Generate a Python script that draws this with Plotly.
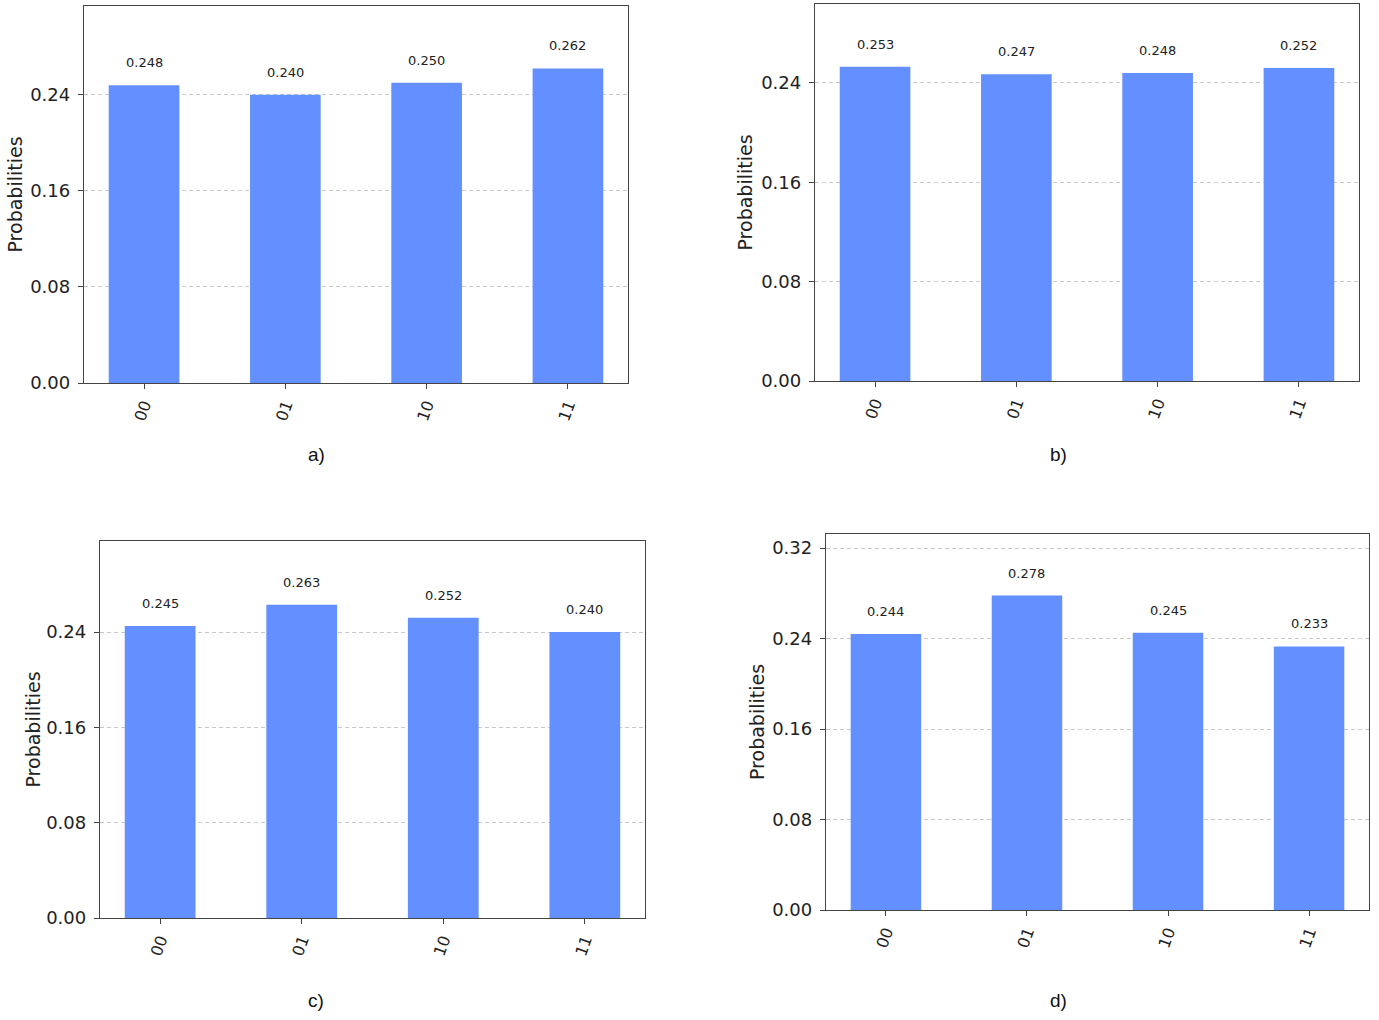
import plotly.graph_objects as go

W, H = 1379, 1020
HR = 1010  # rendered height observed in the capture

categories = ["00", "01", "10", "11"]
values_a = [0.248, 0.240, 0.250, 0.262]
values_b = [0.253, 0.247, 0.248, 0.252]
values_c = [0.245, 0.263, 0.252, 0.240]
values_d = [0.244, 0.278, 0.245, 0.233]
panel_labels = ["a)", "b)", "c)", "d)"]
y_tick_vals = [0.0, 0.08, 0.16, 0.24, 0.32]

# pixel boxes of plot areas: (left, right, top, bottom)
boxes = [(84, 628, 6, 383), (815, 1359, 4, 381), (100, 645, 541, 918), (826, 1369, 534, 910)]
y_max = [0.314, 0.3036, 0.3164, 0.3324]
label_pos = [(316, 455), (1058, 455), (316, 1000), (1058, 1000)]
ytitle_x = [15, 745, 32, 757]

BAR = "#648fff"
FONT = "DejaVu Sans"


def px(xp):
    return xp / W


def py(yp):
    return min(1.0, max(0.0, 1 - yp / HR))


fig = go.Figure()
series = [values_a, values_b, values_c, values_d]
for i, vals in enumerate(series):
    n = "" if i == 0 else str(i + 1)
    l, r, t, b = boxes[i]
    fig.add_trace(go.Bar(x=categories, y=vals, marker=dict(color=BAR, line=dict(width=0)),
                         width=0.5, xaxis="x" + n, yaxis="y" + n, showlegend=False,
                         hoverinfo="x+y"))
    xa = dict(domain=[px(l), px(r)], anchor="y" + n, type="category", range=[-0.425, 3.425],
              showline=True, mirror=True, linecolor="#444", linewidth=1.3,
              ticks="outside", ticklen=5, tickcolor="#444", tickangle=-70,
              tickfont=dict(family=FONT, size=16, color="#222"), showgrid=False,
              zeroline=False, fixedrange=True)
    ya = dict(domain=[py(b), py(t)], anchor="x" + n, range=[0, y_max[i]],
              showline=True, mirror=True, linecolor="#444", linewidth=1.3,
              ticks="outside", ticklen=5, tickcolor="#444", ticklabelstandoff=4,
              tickvals=y_tick_vals, tickformat=".2f",
              tickfont=dict(family=FONT, size=18, color="#222"),
              showgrid=True, gridcolor="#c8c8c8", griddash="4px,3px", gridwidth=1,
              zeroline=False, fixedrange=True)
    fig.update_layout(**{"xaxis" + n: xa, "yaxis" + n: ya})
    for j, v in enumerate(vals):
        fig.add_annotation(x=j, y=v, xref="x" + n, yref="y" + n, text=f"{v:.3f}",
                           showarrow=False, yanchor="bottom", yshift=13,
                           font=dict(family=FONT, size=13, color="#222"))
    fig.add_annotation(x=px(label_pos[i][0]), y=py(label_pos[i][1]), xref="paper", yref="paper",
                       text=panel_labels[i], showarrow=False, xanchor="center", yanchor="middle",
                       font=dict(family="Liberation Sans", size=19, color="#111"))
    fig.add_annotation(x=px(ytitle_x[i]), y=py((t + b) / 2), xref="paper", yref="paper",
                       text="Probabilities", showarrow=False, textangle=-90,
                       xanchor="center", yanchor="middle",
                       font=dict(family=FONT, size=19, color="#222"))

fig.update_layout(width=W, height=H, margin=dict(l=0, r=0, t=0, b=0),
                  paper_bgcolor="white", plot_bgcolor="white", bargap=0.5)
fig.write_html("out.html", config={"displayModeBar": False},
               post_script="document.body.style.margin='0';")
